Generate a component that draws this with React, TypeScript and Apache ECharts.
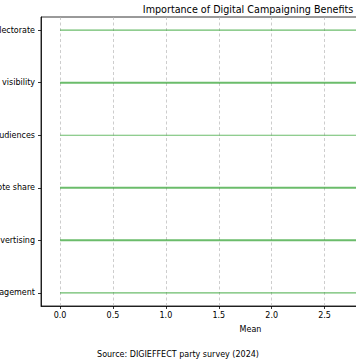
import React, { useEffect, useRef } from "react";
import * as echarts from "echarts";

const categories = [
  "Mobilising the electorate",
  "Increasing party visibility",
  "Reaching new audiences",
  "Increasing vote share",
  "Cost-effective advertising",
  "Voter engagement",
];
const meanValues = [3.45, 3.6, 3.3, 3.5, 3.4, 3.2];
const lineWidths = [1.4, 2.0, 1.1, 2.0, 2.0, 1.1];
const xTicks = [0, 0.5, 1.0, 1.5, 2.0, 2.5, 3.0, 3.5];
const titleText = "Importance of Digital Campaigning Benefits";
const xLabel = "Mean";
const sourceText = "Source: DIGIEFFECT party survey (2024)";

export default function App() {
  const ref = useRef<HTMLDivElement>(null);
  useEffect(() => {
    if (!ref.current) return;
    const chart = echarts.init(ref.current, null, { renderer: "svg" });
    const font = "DejaVu Sans";
    const data = categories.map((c, i) => [meanValues[i], i, lineWidths[i]]);
    chart.setOption({
      animation: false,
      textStyle: { fontFamily: font },
      grid: {
        left: 41,
        top: 17,
        width: 419,
        height: 289,
        show: true,
        borderColor: "#000",
        borderWidth: 0.8,
        backgroundColor: "transparent",
        containLabel: false,
        outerBoundsMode: "none",
      },
      xAxis: {
        type: "value",
        min: -0.18,
        max: 3.78,
        name: xLabel,
        nameLocation: "middle",
        nameGap: 19,
        nameTextStyle: { fontSize: 8, color: "#000", fontFamily: font },
        axisLine: { show: true, onZero: false, lineStyle: { color: "#000", width: 0.8 } },
        axisTick: { show: true, length: 3, customValues: xTicks, lineStyle: { color: "#000", width: 0.8 } },
        axisLabel: {
          customValues: xTicks,
          formatter: (v: number) => v.toFixed(1),
          fontSize: 8,
          color: "#000",
          fontFamily: font,
          margin: 5,
        },
        splitLine: {
          show: true,
          lineStyle: { color: "#b0b0b0", type: [3, 2.5], width: 0.8, opacity: 0.8 },
        },
      },
      yAxis: {
        type: "value",
        inverse: true,
        min: -0.25,
        max: 5.25,
        axisLine: { show: true, onZero: false, lineStyle: { color: "#000", width: 0.8 } },
        axisTick: { show: true, length: 3, customValues: [0, 1, 2, 3, 4, 5], lineStyle: { color: "#000", width: 0.8 } },
        axisLabel: {
          customValues: [0, 1, 2, 3, 4, 5],
          formatter: (v: number) => categories[Math.round(v)] ?? "",
          fontSize: 8,
          color: "#000",
          fontFamily: font,
          margin: 6,
        },
        splitLine: { show: false },
      },
      series: [
        {
          type: "custom",
          clip: true,
          data,
          renderItem: (params: any, api: any) => {
            const v = api.value(0);
            const y = api.value(1);
            const w = api.value(2);
            const p0 = api.coord([0, y]);
            const p1 = api.coord([v, y]);
            return {
              type: "line",
              shape: { x1: p0[0], y1: p0[1], x2: p1[0], y2: p1[1] },
              style: { stroke: "#2ca02c", lineWidth: w, opacity: 0.7 },
            };
          },
        },
      ],
      graphic: [
        {
          type: "text",
          x: 248,
          y: 9,
          style: {
            text: titleText,
            fontSize: 9.6,
            fontFamily: font,
            fill: "#000",
            align: "center",
            verticalAlign: "middle",
          },
        },
        {
          type: "text",
          x: 178,
          y: 354,
          style: {
            text: sourceText,
            fontSize: 8,
            fontFamily: font,
            fill: "#000",
            align: "center",
            verticalAlign: "middle",
          },
        },
      ],
    });
    return () => chart.dispose();
  }, []);
  return (
    <div
      ref={ref}
      style={{ position: "absolute", left: 0, top: 0, width: 356, height: 364, background: "#fff" }}
    />
  );
}
